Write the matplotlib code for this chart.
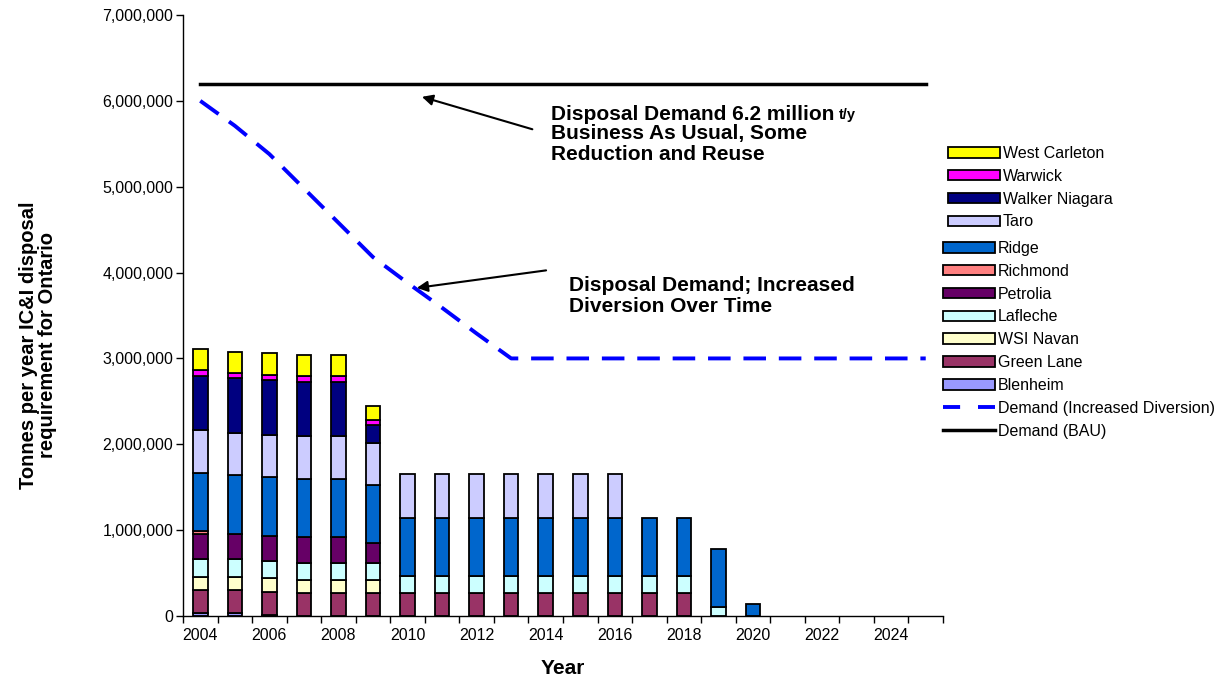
import numpy as np
import matplotlib
matplotlib.use('Agg')
import matplotlib.pyplot as plt
from matplotlib.patches import Patch
from matplotlib.lines import Line2D
from matplotlib.ticker import FuncFormatter, FixedLocator

plt.rcParams['font.family'] = ['Liberation Sans', 'DejaVu Sans']

years = list(range(2004, 2026))

# landfill capacity used per year, thousand tonnes (bottom of the stack first)
blenheim = [35, 35, 15, 0, 0, 0, 0, 0, 0, 0, 0, 0, 0, 0, 0, 0, 0, 0, 0, 0, 0, 0]
green_lane = [265, 265, 265, 265, 265, 265, 265, 265, 265, 265, 265, 265, 265, 265, 265, 0, 0, 0, 0, 0, 0, 0]
wsi_navan = [155, 155, 160, 160, 160, 160, 0, 0, 0, 0, 0, 0, 0, 0, 0, 0, 0, 0, 0, 0, 0, 0]
lafleche = [205, 205, 195, 195, 195, 195, 205, 205, 205, 205, 205, 205, 205, 205, 205, 100, 0, 0, 0, 0, 0, 0]
petrolia = [295, 300, 300, 300, 300, 225, 0, 0, 0, 0, 0, 0, 0, 0, 0, 0, 0, 0, 0, 0, 0, 0]
richmond = [35, 0, 0, 0, 0, 0, 0, 0, 0, 0, 0, 0, 0, 0, 0, 0, 0, 0, 0, 0, 0, 0]
ridge = [675, 680, 680, 670, 670, 680, 675, 675, 675, 675, 675, 675, 675, 675, 675, 685, 145, 0, 0, 0, 0, 0]
taro = [505, 495, 495, 505, 505, 495, 505, 505, 505, 505, 505, 505, 505, 0, 0, 0, 0, 0, 0, 0, 0, 0]
walker_niagara = [630, 635, 635, 635, 635, 200, 0, 0, 0, 0, 0, 0, 0, 0, 0, 0, 0, 0, 0, 0, 0, 0]
warwick = [60, 60, 60, 60, 60, 60, 0, 0, 0, 0, 0, 0, 0, 0, 0, 0, 0, 0, 0, 0, 0, 0]
west_carleton = [250, 250, 260, 255, 255, 165, 0, 0, 0, 0, 0, 0, 0, 0, 0, 0, 0, 0, 0, 0, 0, 0]

# disposal demand, thousand tonnes
demand_bau = [6200, 6200, 6200, 6200, 6200, 6200, 6200, 6200, 6200, 6200, 6200,
              6200, 6200, 6200, 6200, 6200, 6200, 6200, 6200, 6200, 6200, 6200]
demand_div = [6000, 5710, 5380, 4980, 4580, 4180, 3880, 3590, 3290, 3000, 3000,
              3000, 3000, 3000, 3000, 3000, 3000, 3000, 3000, 3000, 3000, 3000]

sites = [
    ('Blenheim', blenheim, '#9999FF'),
    ('Green Lane', green_lane, '#993366'),
    ('WSI Navan', wsi_navan, '#FFFFCC'),
    ('Lafleche', lafleche, '#CCFFFF'),
    ('Petrolia', petrolia, '#660066'),
    ('Richmond', richmond, '#FF8080'),
    ('Ridge', ridge, '#0066CC'),
    ('Taro', taro, '#CCCCFF'),
    ('Walker Niagara', walker_niagara, '#000080'),
    ('Warwick', warwick, '#FF00FF'),
    ('West Carleton', west_carleton, '#FFFF00'),
]

fig = plt.figure(figsize=(12.24, 6.79), dpi=100)
ax = fig.add_axes([183 / 1224, 63 / 679, 760 / 1224, 601 / 679])

x = np.arange(len(years))
bottom = np.zeros(len(years))
for name, vals, col in sites:
    v = np.array(vals) * 1000.0
    keep = v > 0  # skip empty segments so no outline is drawn
    ax.bar(x[keep], v[keep], 0.42, bottom=bottom[keep], color=col,
           edgecolor='black', linewidth=1.3, zorder=2)
    bottom += v

ax.plot(x, np.array(demand_div) * 1000.0, color='#0000FF', lw=2.8, dashes=(5.8, 3.3), zorder=3)
ax.plot(x, np.array(demand_bau) * 1000.0, color='black', lw=2.5, zorder=3)

ax.set_xlim(-0.5, len(years) - 0.5)
ax.set_ylim(0, 7000000)
ax.set_yticks(np.arange(0, 7000001, 1000000))
ax.yaxis.set_major_formatter(FuncFormatter(lambda v, p: f'{int(v):,}'))
ax.set_xticks(x[::2])
ax.set_xticklabels([str(y) for y in years[::2]])
ax.xaxis.set_minor_locator(FixedLocator(np.arange(-0.5, len(years), 1.0)))
ax.tick_params(axis='x', which='major', length=0, pad=9, labelsize=11.5)
ax.tick_params(axis='x', which='minor', length=5, width=1, direction='out')
ax.tick_params(axis='y', length=5, width=1, direction='out', pad=2, labelsize=11.5)
for s in ['top', 'right']:
    ax.spines[s].set_visible(False)
for s in ['left', 'bottom']:
    ax.spines[s].set_color('black')
    ax.spines[s].set_linewidth(1.0)

ax.set_xlabel('Year', fontsize=15, fontweight='bold', labelpad=11)
fig.text(0.031, 0.492, 'Tonnes per year IC&I disposal\nrequirement for Ontario',
         rotation=90, ha='center', va='center', fontsize=14.5, fontweight='bold',
         linespacing=1.05)

# annotations
t1 = ax.text(10.15, 5.95e6, 'Disposal Demand 6.2 million', fontsize=15,
             fontweight='bold', ha='left', va='top')
ax.annotate('t/y', xy=(1, 0.12), xycoords=t1, xytext=(3, 0), textcoords='offset points',
            fontsize=10.5, fontweight='bold', ha='left', va='bottom')
ax.annotate('Business As Usual, Some\nReduction and Reuse', xy=(0, 0), xycoords=t1,
            fontsize=15, fontweight='bold', ha='left', va='top', linespacing=1.1)
ax.annotate('', xy=(6.34, 6.056e6), xytext=(9.69, 5.66e6),
            arrowprops=dict(arrowstyle='-|>', color='black', lw=1.5, mutation_scale=16))

ax.text(10.67, 3.96e6, 'Disposal Demand; Increased\nDiversion Over Time', fontsize=15,
        fontweight='bold', ha='left', va='top', linespacing=1.1)
ax.annotate('', xy=(6.19, 3.817e6), xytext=(10.09, 4.03e6),
            arrowprops=dict(arrowstyle='-|>', color='black', lw=1.5, mutation_scale=16))

# legends: upper block and lower block
def patch(name):
    for n, _, c in sites:
        if n == name:
            return Patch(facecolor=c, edgecolor='black', linewidth=1.3)

top_names = ['West Carleton', 'Warwick', 'Walker Niagara', 'Taro']
low_names = ['Ridge', 'Richmond', 'Petrolia', 'Lafleche', 'WSI Navan', 'Green Lane', 'Blenheim']

leg_kw = dict(frameon=False, fontsize=11.5, handlelength=3.25, handleheight=0.63,
              handletextpad=0.19, labelspacing=0.49, borderpad=0, borderaxespad=0)
leg1 = fig.legend([patch(n) for n in top_names], top_names, loc='upper left',
                  bbox_to_anchor=(948 / 1224, 1 - 146 / 679), **leg_kw)
low_handles = [patch(n) for n in low_names]
low_handles.append(Line2D([], [], color='#0000FF', lw=2.8, dashes=(4.4, 4.6)))
low_handles.append(Line2D([], [], color='black', lw=2.5))
leg2 = fig.legend(low_handles, low_names + ['Demand (Increased Diversion)', 'Demand (BAU)'],
                  loc='upper left', bbox_to_anchor=(943 / 1224, 1 - 241 / 679), **leg_kw)

fig.savefig('out.png', dpi=100)
